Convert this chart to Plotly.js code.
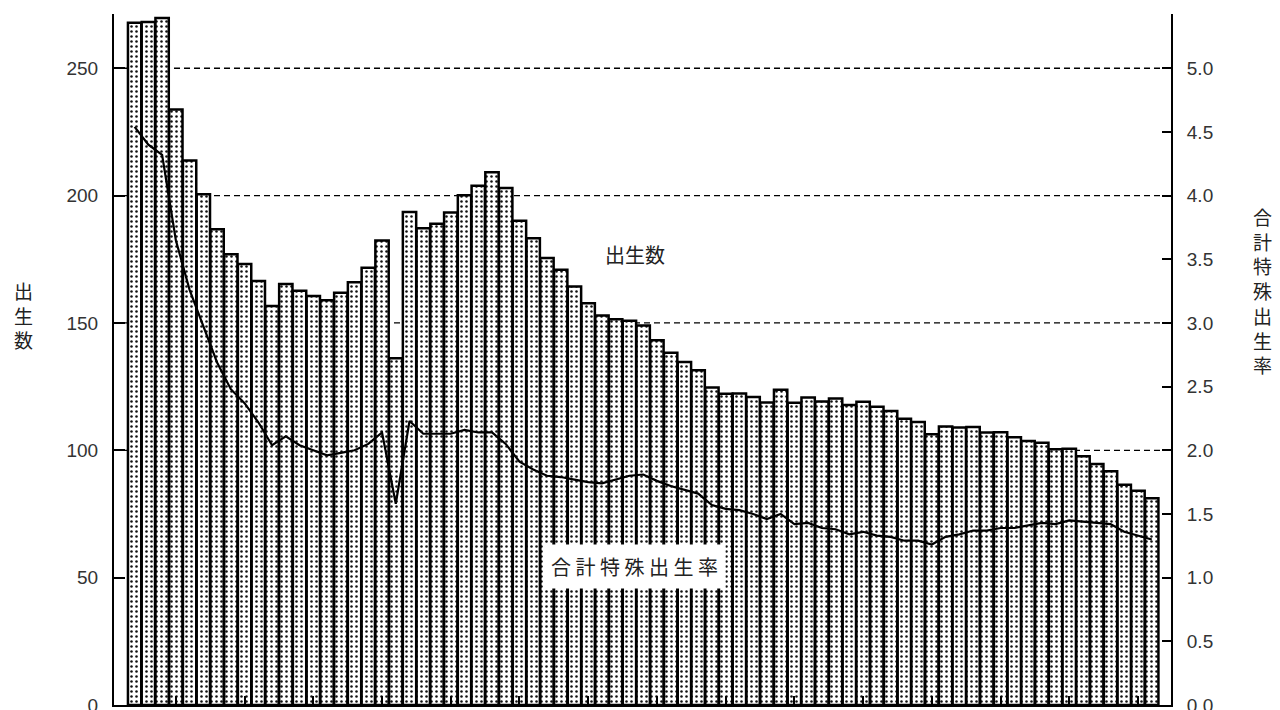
<!DOCTYPE html>
<html>
<head>
<meta charset="utf-8">
<script src="https://cdn.plot.ly/plotly-3.0.1.min.js"></script>
<style>html,body{margin:0;padding:0;background:#fff;}#chart{width:1280px;height:710px;}</style>
</head>
<body>
<div id="chart"></div>
<script>
var years = [1947,1948,1949,1950,1951,1952,1953,1954,1955,1956,1957,1958,1959,1960,1961,1962,1963,1964,1965,1966,1967,1968,1969,1970,1971,1972,1973,1974,1975,1976,1977,1978,1979,1980,1981,1982,1983,1984,1985,1986,1987,1988,1989,1990,1991,1992,1993,1994,1995,1996,1997,1998,1999,2000,2001,2002,2003,2004,2005,2006,2007,2008,2009,2010,2011,2012,2013,2014,2015,2016,2017,2018,2019,2020,2021];
var births = [267.9,268.2,269.7,233.8,213.8,200.5,186.8,177.0,173.1,166.5,156.7,165.3,162.6,160.6,158.9,161.9,166.0,171.7,182.4,136.1,193.6,187.2,188.9,193.4,200.1,203.9,209.2,203.0,190.1,183.3,175.5,170.9,164.3,157.7,152.9,151.5,150.9,149.0,143.2,138.3,134.7,131.4,124.7,122.2,122.3,120.9,118.8,123.8,118.7,120.7,119.2,120.3,117.8,119.1,117.1,115.4,112.4,111.1,106.3,109.3,109.0,109.1,107.0,107.1,105.1,103.7,103.0,100.4,100.6,97.7,94.6,91.8,86.5,84.1,81.2];
var tfr = [4.54,4.40,4.32,3.65,3.26,2.98,2.69,2.48,2.37,2.22,2.04,2.11,2.04,2.00,1.96,1.98,2.00,2.05,2.14,1.58,2.23,2.13,2.13,2.13,2.16,2.14,2.14,2.05,1.91,1.85,1.80,1.79,1.77,1.75,1.74,1.77,1.80,1.81,1.76,1.72,1.69,1.66,1.57,1.54,1.53,1.50,1.46,1.50,1.42,1.43,1.39,1.38,1.34,1.36,1.33,1.32,1.29,1.29,1.26,1.32,1.34,1.37,1.37,1.39,1.39,1.41,1.43,1.42,1.45,1.44,1.43,1.42,1.36,1.33,1.30];
var xTicks = [1950,1955,1960,1965,1970,1975,1980,1985,1990,1995,2000,2005,2010,2015,2020];
var leftTicks = [0,50,100,150,200,250];
var rightTicks = [0,0.5,1,1.5,2,2.5,3,3.5,4,4.5,5];
var rightTickText = ['0.0','0.5','1.0','1.5','2.0','2.5','3.0','3.5','4.0','4.5','5.0'];
var gridLevels = [100,150,200,250];
var leftTitle = '出<br>生<br>数';
var rightTitle = '合<br>計<br>特<br>殊<br>出<br>生<br>率';
var barLabel = '出生数';
var lineLabel = '合 計 特 殊 出 生 率';

var cjk = '"Noto Sans CJK JP", "Noto Sans", sans-serif';
var num = '"Liberation Sans", Arial, sans-serif';

var traces = [
  {
    type: 'bar', x: years, y: births, yaxis: 'y',
    marker: {
      color: 'white',
      line: {color: 'black', width: 2.5},
      pattern: {shape: '.', fgcolor: '#111', bgcolor: 'white', size: 5, solidity: 0.2}
    },
    hoverinfo: 'x+y'
  },
  {
    type: 'scatter', mode: 'lines', x: years, y: tfr, yaxis: 'y2',
    line: {color: 'black', width: 2.2}
  }
];

var shapes = gridLevels.map(function(v){
  return {type: 'line', xref: 'paper', yref: 'y', x0: 0, x1: 1, y0: v, y1: v,
          line: {color: 'black', width: 1.3, dash: '6px,4px'}, layer: 'below'};
});

var layout = {
  width: 1280, height: 710,
  margin: {l: 114, r: 109, t: 14, b: 5},
  paper_bgcolor: 'white', plot_bgcolor: 'white',
  showlegend: false,
  bargap: 0.03,
  xaxis: {
    range: [1945.5, 2022.4], tickvals: xTicks, showticklabels: false,
    ticks: 'inside', ticklen: 9, tickwidth: 2, tickcolor: 'black',
    showline: true, linecolor: 'black', linewidth: 2, showgrid: false, zeroline: false
  },
  yaxis: {
    range: [0, 271.3], tickvals: leftTicks,
    ticks: 'inside', ticklen: 11, tickwidth: 2, tickcolor: 'black',
    showline: true, linecolor: 'black', linewidth: 2, showgrid: false, zeroline: false,
    ticklabelstandoff: 10, ticklabeloverflow: 'allow',
    tickfont: {family: num, size: 19, color: '#333'}
  },
  yaxis2: {
    range: [0, 5.426], overlaying: 'y', side: 'right',
    tickvals: rightTicks, ticktext: rightTickText,
    ticks: 'inside', ticklen: 9, tickwidth: 2, tickcolor: 'black',
    showline: true, linecolor: 'black', linewidth: 2, showgrid: false, zeroline: false,
    ticklabelstandoff: 10, ticklabeloverflow: 'allow',
    tickfont: {family: num, size: 19, color: '#333'}
  },
  shapes: shapes,
  annotations: [
    {xref: 'paper', yref: 'paper', x: -0.086, y: 0.565, text: leftTitle, showarrow: false,
     font: {family: cjk, size: 19, color: '#222'}, xanchor: 'center', yanchor: 'middle'},
    {x: 1.0, xref: 'paper', yref: 'paper', y: 0.6, text: rightTitle, showarrow: false,
     font: {family: cjk, size: 19, color: '#222'}, xanchor: 'center', yanchor: 'middle'},
    {xref: 'x', yref: 'y', x: 1983.4, y: 177, text: barLabel, showarrow: false,
     font: {family: cjk, size: 20, color: '#222'}, xanchor: 'center', yanchor: 'middle'},
    {xref: 'x', yref: 'y', x: 1983.4, y: 54.5, text: lineLabel, showarrow: false,
     font: {family: cjk, size: 20, color: '#222'}, bgcolor: 'white', borderpad: 7,
     xanchor: 'center', yanchor: 'middle'}
  ]
};
layout.annotations[1].x = 1 + (1262 - 1171) / (1280 - 114 - 109);

Plotly.newPlot('chart', traces, layout, {displayModeBar: false, staticPlot: true});
</script>
</body>
</html>
